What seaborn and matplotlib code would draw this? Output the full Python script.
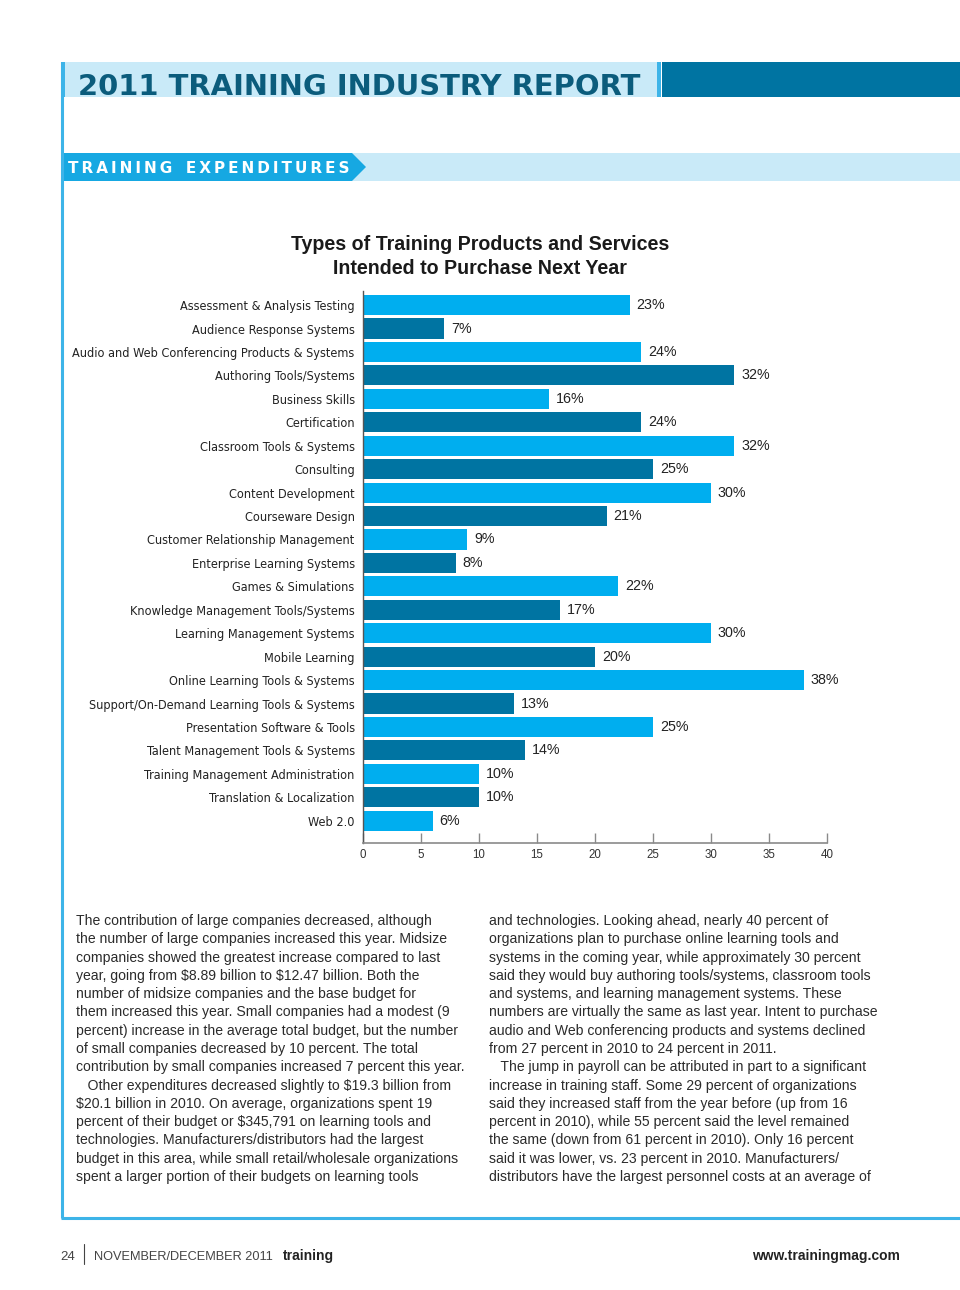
import matplotlib
matplotlib.use("Agg")
import matplotlib.pyplot as plt
import seaborn as sns
import pandas as pd
from matplotlib.patches import Rectangle, Polygon
from matplotlib import font_manager as fm
from matplotlib.font_manager import FontProperties

# ---------------- data ----------------
categories = [
    "Assessment & Analysis Testing",
    "Audience Response Systems",
    "Audio and Web Conferencing Products & Systems",
    "Authoring Tools/Systems",
    "Business Skills",
    "Certification",
    "Classroom Tools & Systems",
    "Consulting",
    "Content Development",
    "Courseware Design",
    "Customer Relationship Management",
    "Enterprise Learning Systems",
    "Games & Simulations",
    "Knowledge Management Tools/Systems",
    "Learning Management Systems",
    "Mobile Learning",
    "Online Learning Tools & Systems",
    "Support/On-Demand Learning Tools & Systems",
    "Presentation Software & Tools",
    "Talent Management Tools & Systems",
    "Training Management Administration",
    "Translation & Localization",
    "Web 2.0",
]
values = [23, 7, 24, 32, 16, 24, 32, 25, 30, 21, 9, 8, 22, 17, 30, 20, 38, 13, 25, 14, 10, 10, 6]
x_ticks = [0, 5, 10, 15, 20, 25, 30, 35, 40]

chart_title = "Types of Training Products and Services\nIntended to Purchase Next Year"
header_title = "2011 TRAINING INDUSTRY REPORT"
section_title = "TRAINING EXPENDITURES"

left_col = [
    "The contribution of large companies decreased, although",
    "the number of large companies increased this year. Midsize",
    "companies showed the greatest increase compared to last",
    "year, going from $8.89 billion to $12.47 billion. Both the",
    "number of midsize companies and the base budget for",
    "them increased this year. Small companies had a modest (9",
    "percent) increase in the average total budget, but the number",
    "of small companies decreased by 10 percent. The total",
    "contribution by small companies increased 7 percent this year.",
    "   Other expenditures decreased slightly to $19.3 billion from",
    "$20.1 billion in 2010. On average, organizations spent 19",
    "percent of their budget or $345,791 on learning tools and",
    "technologies. Manufacturers/distributors had the largest",
    "budget in this area, while small retail/wholesale organizations",
    "spent a larger portion of their budgets on learning tools",
]
right_col = [
    "and technologies. Looking ahead, nearly 40 percent of",
    "organizations plan to purchase online learning tools and",
    "systems in the coming year, while approximately 30 percent",
    "said they would buy authoring tools/systems, classroom tools",
    "and systems, and learning management systems. These",
    "numbers are virtually the same as last year. Intent to purchase",
    "audio and Web conferencing products and systems declined",
    "from 27 percent in 2010 to 24 percent in 2011.",
    "   The jump in payroll can be attributed in part to a significant",
    "increase in training staff. Some 29 percent of organizations",
    "said they increased staff from the year before (up from 16",
    "percent in 2010), while 55 percent said the level remained",
    "the same (down from 61 percent in 2010). Only 16 percent",
    "said it was lower, vs. 23 percent in 2010. Manufacturers/",
    "distributors have the largest personnel costs at an average of",
]
footer_left_num = "24"
footer_left_text = "NOVEMBER/DECEMBER 2011"
footer_brand = "training"
footer_right = "www.trainingmag.com"

# ---------------- style ----------------
LIGHT = "#00AEEF"
DARK = "#0074A2"
HEADER_BG = "#C9EAF8"
HEADER_TXT = "#0B5C7C"
BORDER = "#3DB4E8"
TEXT = "#2b2b2b"

sns.set_theme(style="white")
plt.rcParams["font.family"] = ["Liberation Sans", "DejaVu Sans"]
plt.rcParams["text.parse_math"] = False

W, H = 960, 1290
fig = plt.figure(figsize=(W / 100, H / 100), dpi=100)
renderer = fig.canvas.get_renderer()


def fit_size(text, prop, target_px, max_size=None):
    p = prop.copy()
    p.set_size(10)
    w, _, _ = renderer.get_text_width_height_descent(text, p, ismath=False)
    s = 10 * target_px / w
    if max_size is not None:
        s = min(s, max_size)
    return s


# find a condensed face for the category labels if one is installed
cond_file = None
for f in fm.fontManager.ttflist:
    nm = f.name.lower()
    if ("condensed" in nm or "narrow" in nm or str(f.stretch) in ("condensed", "semi-condensed")) \
            and f.weight in (400, "normal", "regular") and f.style == "normal":
        cond_file = f.fname
        break
if cond_file:
    label_prop = FontProperties(fname=cond_file)
else:
    label_prop = FontProperties(family=["Roboto", "DejaVu Sans"])

# background decor axes in pixel coordinates
bg = fig.add_axes([0, 0, 1, 1], zorder=0)
bg.set_xlim(0, W)
bg.set_ylim(H, 0)
bg.axis("off")

# header band
bg.add_patch(Rectangle((61, 62), 596, 35, color=HEADER_BG, lw=0))
bg.add_patch(Rectangle((61, 62), 4, 35, color=BORDER, lw=0))
bg.add_patch(Rectangle((657, 62), 4, 35, color=BORDER, lw=0))
bg.add_patch(Rectangle((662, 62), 298, 35, color=DARK, lw=0))
hprop = FontProperties(family=["DejaVu Sans"], weight="bold")
hsize = fit_size(header_title, hprop, 566)
bg.text(78, 95, header_title, fontsize=hsize, fontweight="bold", color=HEADER_TXT,
        family=["DejaVu Sans"], va="baseline", ha="left")

# section banner
bg.add_patch(Rectangle((350, 153), 610, 28, color=HEADER_BG, lw=0))
bg.add_patch(Polygon([(61, 153), (352, 153), (366, 167), (352, 181), (61, 181)],
                     closed=True, color="#16A8E2", lw=0))
sec_txt = "\u2009\u2002\u2009".join("\u2009".join(wd) for wd in section_title.split(" "))
sprop = FontProperties(family=["DejaVu Sans"], weight="bold")
ssize = fit_size(sec_txt, sprop, 282, max_size=11.5)
bg.text(68, 173, sec_txt, fontsize=ssize, fontweight="bold", color="white",
        family=["DejaVu Sans"], va="baseline", ha="left")

# border lines
bg.plot([62, 62], [62, 1218], color=BORDER, lw=2.2, solid_capstyle="butt")
bg.plot([61, 960], [1218, 1218], color=BORDER, lw=2.2, solid_capstyle="butt")

# chart title
tprop = FontProperties(family=["Liberation Sans", "DejaVu Sans"], weight="bold")
tsize = fit_size(chart_title.split("\n")[0], tprop, 378)
bg.text(480, 274, chart_title, ha="center", va="baseline", fontsize=tsize,
        fontweight="bold", color="#1a1a1a", linespacing=1.36)

# body columns
y0, dy = 925, 18.29
for i, line in enumerate(left_col):
    bg.text(76, y0 + i * dy, line, fontsize=10.1, color=TEXT, va="baseline", ha="left")
for i, line in enumerate(right_col):
    bg.text(489, y0 + i * dy, line, fontsize=10.1, color=TEXT, va="baseline", ha="left")

# footer
bg.text(60, 1260, footer_left_num, fontsize=9.5, color="#444444", va="baseline")
bg.plot([84, 84], [1244, 1264], color="#444444", lw=0.8)
bg.text(94, 1260, footer_left_text, fontsize=9.2, color="#444444", va="baseline")
bg.text(283, 1260, footer_brand, fontsize=10, color="#222222", fontweight="bold", va="baseline")
bg.text(900, 1260, footer_right, fontsize=10, color="#222222", fontweight="bold",
        va="baseline", ha="right")

# ---------------- bar chart ----------------
df = pd.DataFrame({"category": categories, "value": values})
palette = [LIGHT if i % 2 == 0 else DARK for i in range(len(categories))]

ax = fig.add_axes([363 / W, 1 - 843 / H, 464 / W, (843 - 291) / H], zorder=1)
ax.patch.set_alpha(0)
sns.barplot(data=df, x="value", y="category", hue="category", palette=palette,
            legend=False, width=0.86, saturation=1, ax=ax, edgecolor="none")

ax.set_xlim(0, 40)
ax.set_ylim(22.95, -0.6)
ax.set_xticks(x_ticks)
ax.set_xticklabels([str(t) for t in x_ticks], fontsize=8.3, color="#333333")
ax.tick_params(axis="x", direction="in", length=7, width=1, color="#8a8a8a", pad=4, bottom=True)
ax.tick_params(axis="y", length=0, pad=6)

longest = max(categories, key=lambda c: renderer.get_text_width_height_descent(
    c, label_prop, ismath=False)[0])
lsize = fit_size(longest, label_prop, 282, max_size=12.6)
for lab in ax.get_yticklabels():
    lab.set_fontproperties(label_prop)
    lab.set_fontsize(lsize)
    lab.set_color("#222222")
ax.set_xlabel("")
ax.set_ylabel("")
for s in ["top", "right"]:
    ax.spines[s].set_visible(False)
ax.spines["bottom"].set_color("#8a8a8a")
ax.spines["bottom"].set_linewidth(1.2)
ax.spines["left"].set_color("#555555")
ax.spines["left"].set_linewidth(1.0)
ax.grid(False)

for cont in ax.containers:
    ax.bar_label(cont, labels=[f"{v:.0f}%" for v in cont.datavalues], padding=5,
                 fontsize=10.3, color="#222222")

fig.savefig("out.png", dpi=100)
